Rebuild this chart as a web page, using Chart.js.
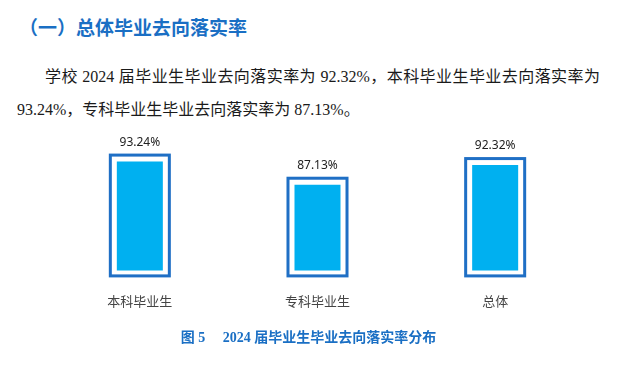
<!DOCTYPE html>
<html>
<head>
<meta charset="utf-8">
<script src="https://cdn.jsdelivr.net/npm/chart.js@4/dist/chart.umd.min.js"></script>
<style>
  body { margin: 0; width: 617px; height: 365px; background: #fff; position: relative; overflow: hidden; }
  .title { position: absolute; left: 19px; top: 13px; font: bold 19px "Noto Sans CJK SC", sans-serif; color: #1a6fc4; white-space: nowrap; }
  .para { position: absolute; left: 17px; width: 583px; font: 16px "Liberation Serif", "Noto Sans CJK SC", serif; color: #1a1a1a; white-space: nowrap; }
  .l1 { top: 63px; padding-left: 28px; width: 555px; text-align: justify; text-align-last: justify; }
  .l2 { top: 96px; }
  .chartbox { position: absolute; left: 0; top: 125px; width: 617px; height: 207px; }
  .caption { position: absolute; left: 0; width: 617px; top: 326px; text-align: center; font: bold 14px "Liberation Serif", "Noto Sans CJK SC", serif; color: #1a6fc4; white-space: nowrap; }
</style>
</head>
<body>
<div class="title">（一）总体毕业去向落实率</div>
<div class="para l1">学校 2024 届毕业生毕业去向落实率为 92.32%，本科毕业生毕业去向落实率为</div>
<div class="para l2">93.24%，专科毕业生毕业去向落实率为 87.13%。</div>
<div class="chartbox"><canvas id="myChart"></canvas></div>
<div class="caption"><span style="font-family:'Noto Sans CJK SC'">图</span> 5&nbsp;&nbsp;&nbsp;&nbsp; 2024 <span style="font-family:'Noto Sans CJK SC'">届毕业生毕业去向落实率分布</span></div>
<script>
// data
const labels = ['本科毕业生', '专科毕业生', '总体'];
const rates = [93.24, 87.13, 92.32];

// outline box + value labels drawn around each bar
const boxPlugin = {
    id: 'boxPlugin',
    afterDatasetsDraw(chart) {
        const ctx = chart.ctx
        const meta = chart.getDatasetMeta(0)
        const bottom = chart.chartArea.bottom
        ctx.save()
        meta.data.forEach(function (bar, i) {
            const base = Math.min(bar.base, bottom)
            const left = bar.x - bar.width / 2 - 6.5
            const top = bar.y - 6.5
            const w = bar.width + 13
            const h = base + 5.5 - top
            ctx.strokeStyle = '#1f6fc5'
            ctx.lineWidth = 3
            ctx.strokeRect(left, top, w, h)
            ctx.fillStyle = '#222'
            ctx.font = '12px "Noto Sans", sans-serif'
            ctx.textAlign = 'center'
            ctx.textBaseline = 'middle'
            ctx.fillText(rates[i].toFixed(2) + '%', bar.x, bar.y - 19)
        })
        ctx.restore()
    }
}

const config = {
    type: 'bar',
    data: {
        labels: labels,
        datasets: [{
            data: rates,
            backgroundColor: '#00b0f0',
            borderWidth: 0,
            categoryPercentage: 1,
            barPercentage: 0.259
        }]
    },
    options: {
        responsive: true,
        maintainAspectRatio: false,
        animation: false,
        layout: { padding: { left: 51, right: 33, top: 11, bottom: 0 } },
        plugins: { legend: { display: false }, tooltip: { enabled: false } },
        scales: {
            x: {
                grid: { display: false, drawTicks: false },
                border: { display: false },
                ticks: { color: '#444', font: { size: 13, family: '"Noto Sans CJK SC", sans-serif' }, padding: 23 }
            },
            y: {
                display: false,
                min: 64.5,
                max: 100
            }
        }
    },
    plugins: [boxPlugin]
};
const myChart = new Chart(document.getElementById('myChart'), config);
</script>
</body>
</html>
